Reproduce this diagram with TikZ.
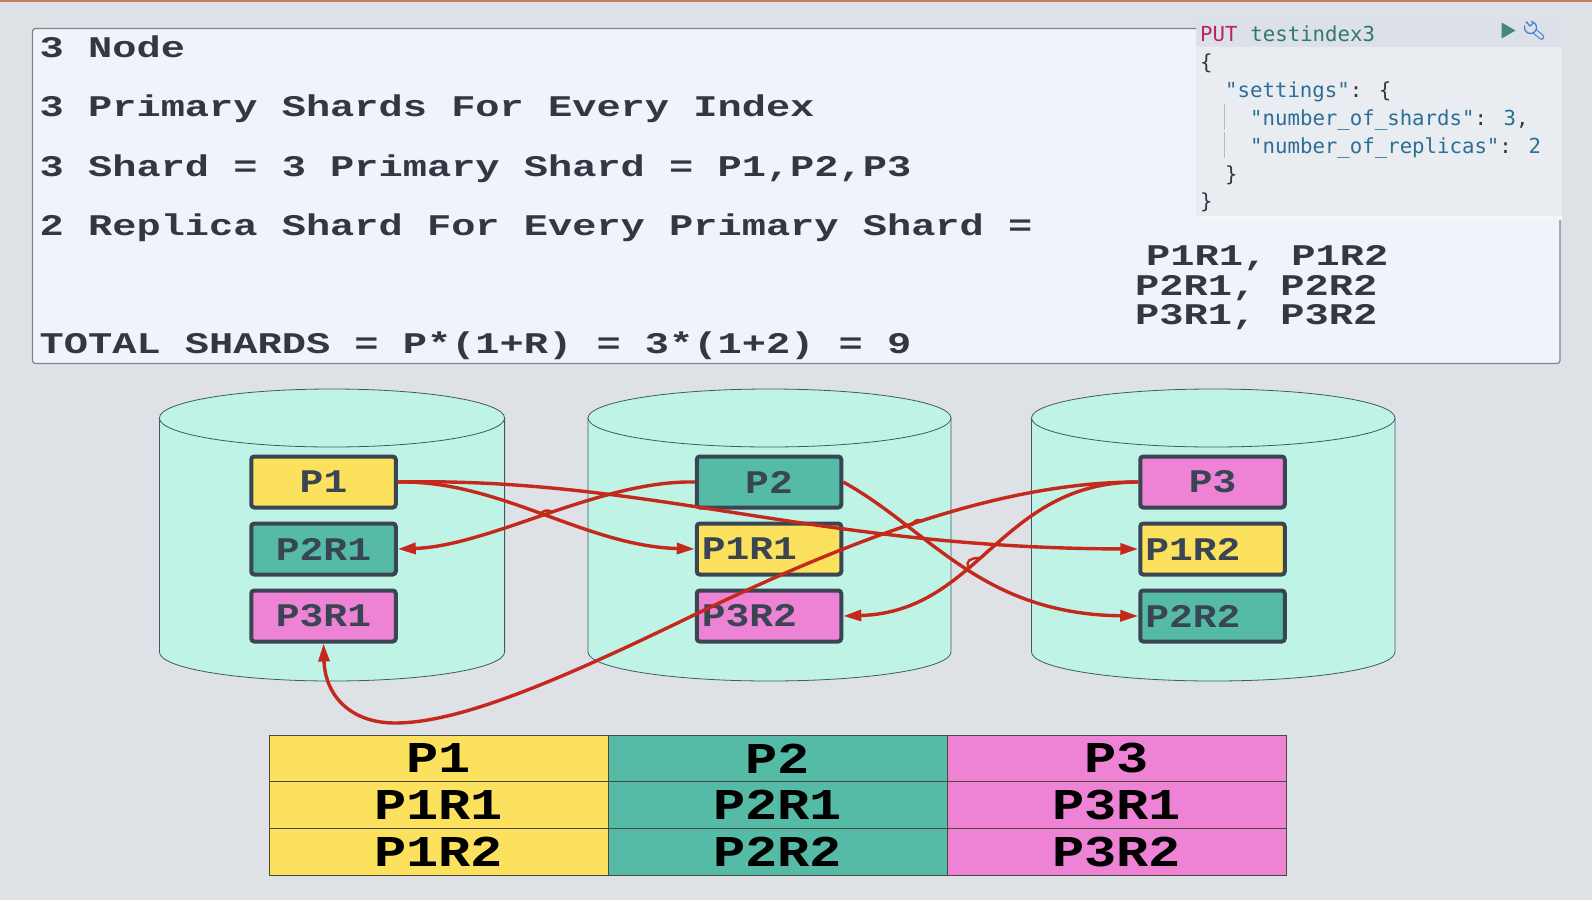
\documentclass[tikz,border=0pt]{standalone}
\usepackage{fontspec}
\newfontfamily\topf[FakeStretch=1.345]{Liberation Mono}
\newfontfamily\boxf[FakeStretch=1.2]{Liberation Mono}
\newfontfamily\tabf[FakeStretch=1.22]{Liberation Mono}
\newfontfamily\codef{DejaVu Sans Mono}
\definecolor{bgc}{HTML}{DEE1E6}
\definecolor{panelc}{HTML}{EFF4FC}
\definecolor{bordc}{HTML}{7F8489}
\definecolor{codec}{HTML}{E9ECF1}
\definecolor{headc}{HTML}{DCE0E8}
\definecolor{stripc}{HTML}{F3F5F9}
\definecolor{cylc}{HTML}{BEF3E6}
\definecolor{cylb}{HTML}{3F5A64}
\definecolor{yel}{HTML}{FBE15E}
\definecolor{teal2}{HTML}{55BBA6}
\definecolor{pink2}{HTML}{EE83D6}
\definecolor{boxb}{HTML}{3A4553}
\definecolor{redc}{HTML}{C4291C}
\definecolor{txtc}{HTML}{343741}
\definecolor{putc}{HTML}{BD2560}
\definecolor{idxc}{HTML}{2F7A6C}
\definecolor{strc}{HTML}{2B6E96}
\definecolor{guidec}{HTML}{B5BAC4}
\definecolor{wrenchc}{HTML}{4A7FD0}
\definecolor{barc}{HTML}{C87C60}
\definecolor{tabl}{HTML}{4A4A3A}
\usetikzlibrary{arrows.meta}
\tikzset{
  toptext/.style={anchor=base west,inner sep=0pt,text=txtc,font=\topf\bfseries\fontsize{30}{30}\selectfont},
  code/.style={anchor=base west,inner sep=0pt,text=txtc,font=\codef\fontsize{20.7}{24}\selectfont},
  sbox/.style={draw=boxb,line width=4pt,rounded corners=3pt,minimum width=144.5pt,minimum height=51pt,inner sep=0pt,text=boxb,font=\boxf\bfseries\fontsize{33}{33}\selectfont},
  lbox/.style={sbox,align=left,text width=134.5pt,inner xsep=5pt},
  cell/.style={draw=tabl,line width=0.5pt,minimum width=339pt,minimum height=46.7pt,inner sep=0pt,text=black,font=\tabf\bfseries\fontsize{44}{44}\selectfont},
  conn/.style={draw=redc,line width=3.4pt,-{Triangle[length=18pt,width=11pt]}},
  jump/.style={draw=redc,line width=2.4pt},
  cyl/.style={fill=cylc,draw=cylb,line width=0.8pt}
}
\newcommand{\drum}[2]{%
  \pgfmathsetmacro{\rxx}{(#2-#1)/2}
  \pgfmathsetmacro{\cxx}{(#2+#1)/2}
  \path[cyl] (#1,418) -- (#1,652) arc[start angle=180,end angle=0,x radius=\rxx,y radius=29] -- (#2,418) -- cycle;
  \path[cyl] (\cxx,418) ellipse[x radius=\rxx,y radius=29];
}
\begin{document}
\begin{tikzpicture}[x=1pt,y=-1pt]
\useasboundingbox (0,0) rectangle (1592,900);
\fill[bgc] (0,0) rectangle (1592,900);
\fill[barc] (0,0) rectangle (1592,2);
% top panel
\draw[fill=panelc,draw=bordc,line width=1.2pt,rounded corners=3pt] (32.5,28.5) rectangle (1560,363.5);
\node[toptext] (t1) at (39.5,57.5) {3 Node};
\node[toptext] (t2) at (39.5,116.5) {3 Primary Shards For Every Index};
\node[toptext] (t3) at (39.5,176) {3 Shard = 3 Primary Shard = P1,P2,P3};
\node[toptext] (t4) at (39.5,235) {2 Replica Shard For Every Primary Shard =};
\node[toptext] (t5) at (1146,265) {P1R1, P1R2};
\node[toptext] (t6) at (1135,295) {P2R1, P2R2};
\node[toptext] (t7) at (1135,324.5) {P3R1, P3R2};
\node[toptext] (t8) at (39.5,353.5) {TOTAL SHARDS = P*(1+R) = 3*(1+2) = 9};
% code panel
\fill[stripc] (1196,215) rectangle (1562,220);
\fill[codec] (1196,47) rectangle (1562,215.5);
\fill[headc] (1196,18) rectangle (1562,47);
\node[code,text=putc] (c0a) at (1200,41.4) {PUT};
\node[code,text=idxc] (c0b) at (1250.2,41.4) {testindex3};
\node[code] (c1) at (1200,69.2) {\{};
\node[code] (c2) at (1225,97.2) {\textcolor{strc}{"settings"}: \{};
\node[code] (c3) at (1250,125.2) {\textcolor{strc}{"number\_of\_shards"}: \textcolor{strc}{3},};
\node[code] (c4) at (1250,153.2) {\textcolor{strc}{"number\_of\_replicas"}: \textcolor{strc}{2}};
\node[code] (c5) at (1225,181.2) {\}};
\node[code] (c6) at (1200,208.7) {\}};
\draw[guidec,line width=1pt] (1224.5,104) -- (1224.5,130) (1224.5,132) -- (1224.5,158);
\fill[idxc!90!white] (1501.5,22.5) -- (1515.5,30.5) -- (1501.5,38.5) -- cycle;
\draw[wrenchc,line width=5.6pt,line cap=round] (1533,30) -- (1541.5,37);
\draw[headc,line width=3.4pt,line cap=round] (1533,30) -- (1541.5,37);
\draw[wrenchc,line width=1.3pt,fill=headc] (1530.5,27.5) circle[radius=6];
\fill[headc] (1529.5,19.5) -- (1524,25) -- (1529,29) -- (1533,25) -- cycle;
\draw[wrenchc,line width=1.3pt] (1526,21.5) -- (1530,26) -- (1533.5,23);
% cylinders
\drum{159.4}{504.6}
\drum{588}{951}
\drum{1031.5}{1395}
% boxes
\node[sbox,fill=yel] (p1) at (323.5,482) {P1};
\node[sbox,fill=teal2] (p2r1) at (323.5,549) {P2R1};
\node[sbox,fill=pink2] (p3r1) at (323.5,616) {P3R1};
\node[sbox,fill=teal2] (p2) at (769,482) {P2};
\node[lbox,fill=yel] (p1r1) at (769,549) {P1R1};
\node[lbox,fill=pink2] (p3r2) at (769,616) {P3R2};
\node[sbox,fill=pink2] (p3) at (1212.5,482) {P3};
\node[lbox,fill=yel] (p1r2) at (1212.5,549) {P1R2};
\node[lbox,fill=teal2] (p2r2) at (1212.5,616) {P2R2};
% connectors
\draw[conn] (p1.east) .. controls (500,480) and (585,546) .. (p1r1.west);
\draw[conn] (p1.east) .. controls (650,477) and (812,548) .. (p1r2.west);
\draw[conn] (p2.west) .. controls (600,480) and (490,546) .. (p2r1.east);
\draw[conn] (p2.east) .. controls (930,530) and (980,614) .. (p2r2.west);
\draw[conn] (p3.west) .. controls (1000,482) and (980,612) .. (p3r2.east);
\draw[conn] (p3.west) .. controls (1000,482) and (850,540) .. (694,615) .. controls (560,680) and (460,723) .. (395,723) .. controls (350,723) and (325,695) .. (p3r1.south);
% line jumps
\draw[jump] (539.5,517) .. controls (541,510) and (547,509) .. (552,512);
\draw[jump] (912,526) .. controls (913,520) and (918,519) .. (923,521);
\draw[jump] (968,567) .. controls (966,561) and (970,558) .. (979,558);
% table
\node[cell,fill=yel] (a1) at (438.5,758.3) {P1};
\node[cell,fill=yel] (a2) at (438.5,805) {P1R1};
\node[cell,fill=yel] (a3) at (438.5,851.7) {P1R2};
\node[cell,fill=teal2] (b1) at (777.5,758.3) {P2};
\node[cell,fill=teal2] (b2) at (777.5,805) {P2R1};
\node[cell,fill=teal2] (b3) at (777.5,851.7) {P2R2};
\node[cell,fill=pink2] (c1t) at (1116.5,758.3) {P3};
\node[cell,fill=pink2] (c2t) at (1116.5,805) {P3R1};
\node[cell,fill=pink2] (c3t) at (1116.5,851.7) {P3R2};
\end{tikzpicture}
\end{document}
